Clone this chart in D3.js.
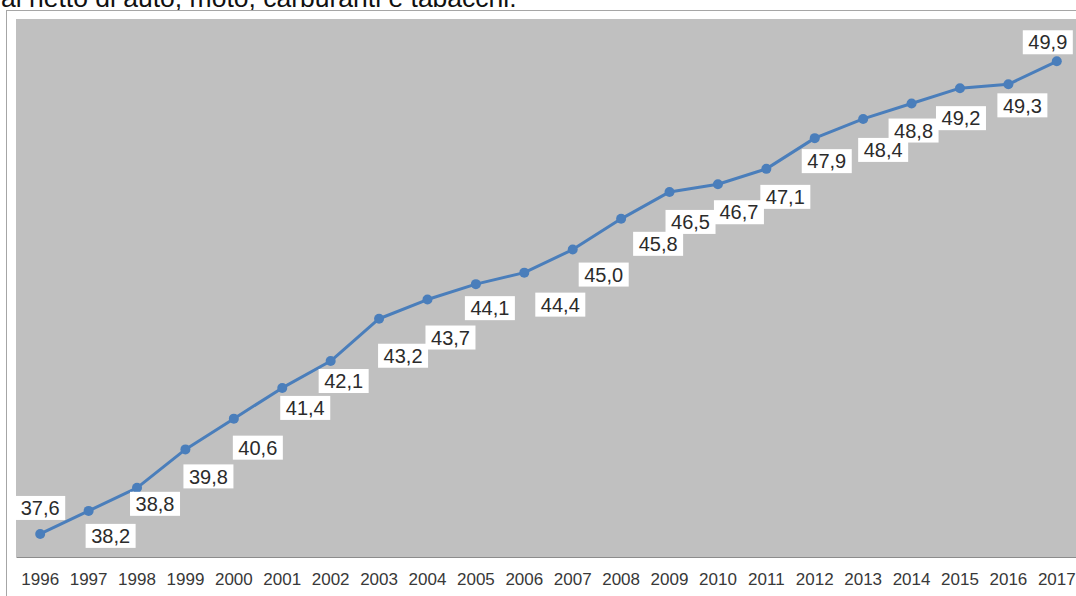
<!DOCTYPE html>
<html>
<head>
<meta charset="utf-8">
<script src="https://cdn.jsdelivr.net/npm/d3@7"></script>
<style>
  html, body { margin: 0; padding: 0; background: #ffffff; }
  svg { display: block; }
</style>
</head>
<body>
<svg id="chart" width="1076" height="596"></svg>
<script>
// Anni e valori della serie
const years = ["1996","1997","1998","1999","2000","2001","2002","2003","2004","2005","2006",
               "2007","2008","2009","2010","2011","2012","2013","2014","2015","2016","2017"];
const values = [37.6, 38.2, 38.8, 39.8, 40.6, 41.4, 42.1, 43.2, 43.7, 44.1, 44.4,
                45.0, 45.8, 46.5, 46.7, 47.1, 47.9, 48.4, 48.8, 49.2, 49.3, 49.9];
const subtitle = "al netto di auto, moto, carburanti e tabacchi.";

// Spostamento delle etichette rispetto al punto (px)
const labelShift = [
  [0,-26],[22,25],[18,16],[23,27],[24,29],[23,20],[13,20],[24,37],[23,38],[14,24],[36,32],
  [31,25],[37,25],[21,30],[21,28],[19,28],[12,23],[20,31],[2,27],[1,30],[14,21],[-9,-19]
];

const svg = d3.select("#chart");
const FONT = "Liberation Sans, Arial, sans-serif";

// Titolo (tagliato dal bordo superiore)
svg.append("text")
  .attr("x", 1).attr("y", 7)
  .attr("font-family", FONT)
  .attr("font-size", 26.5)
  .attr("fill", "#111")
  .text(subtitle);

// Cornice del grafico
svg.append("rect")
  .attr("x", 6.5).attr("y", 10.5)
  .attr("width", 1080).attr("height", 600)
  .attr("fill", "#ffffff")
  .attr("stroke", "#a6a6a6").attr("stroke-width", 1);

const plot = { left: 16, top: 19, right: 1081, bottom: 557 };

const x = d3.scaleBand()
  .domain(years)
  .range([plot.left, plot.right])
  .paddingInner(0).paddingOuter(0);

const y = d3.scaleLinear()
  .domain([37, 51])
  .range([plot.bottom, plot.top]);

// Area del grafico
svg.append("rect")
  .attr("x", plot.left).attr("y", plot.top)
  .attr("width", plot.right - plot.left).attr("height", plot.bottom - plot.top)
  .attr("fill", "#c0c0c0");

// Asse X
const xAxis = d3.axisBottom(x).tickSize(0).tickPadding(16);
const gx = svg.append("g")
  .attr("transform", `translate(0,${plot.bottom})`)
  .call(xAxis);
gx.select(".domain").attr("stroke", "#8c8c8c").attr("stroke-width", 1.2);
gx.selectAll("text")
  .attr("font-family", FONT)
  .attr("font-size", 17)
  .attr("fill", "#383838");

const cx = d => x(d) + x.bandwidth() / 2;
const pts = years.map((yr, i) => ({ yr, v: values[i], i }));

// Linea
svg.append("path")
  .datum(pts)
  .attr("fill", "none")
  .attr("stroke", "#4a7ebb")
  .attr("stroke-width", 3)
  .attr("stroke-linejoin", "round")
  .attr("d", d3.line().x(d => cx(d.yr)).y(d => y(d.v)));

// Marcatori
svg.append("g").selectAll("circle")
  .data(pts).join("circle")
  .attr("cx", d => cx(d.yr))
  .attr("cy", d => y(d.v))
  .attr("r", 5)
  .attr("fill", "#4a7ebb");

// Etichette dei valori
const fmt = v => v.toFixed(1).replace(".", ",");
const lbl = svg.append("g").selectAll("g")
  .data(pts).join("g")
  .attr("transform", d => `translate(${cx(d.yr) + labelShift[d.i][0]},${y(d.v) + labelShift[d.i][1]})`);

lbl.append("rect")
  .attr("x", -25).attr("y", -12)
  .attr("width", 50).attr("height", 24)
  .attr("fill", "#ffffff");

lbl.append("text")
  .attr("text-anchor", "middle")
  .attr("dy", "0.36em")
  .attr("font-family", FONT)
  .attr("font-size", 20)
  .attr("fill", "#2b2b2b")
  .text(d => fmt(d.v));
</script>
</body>
</html>
